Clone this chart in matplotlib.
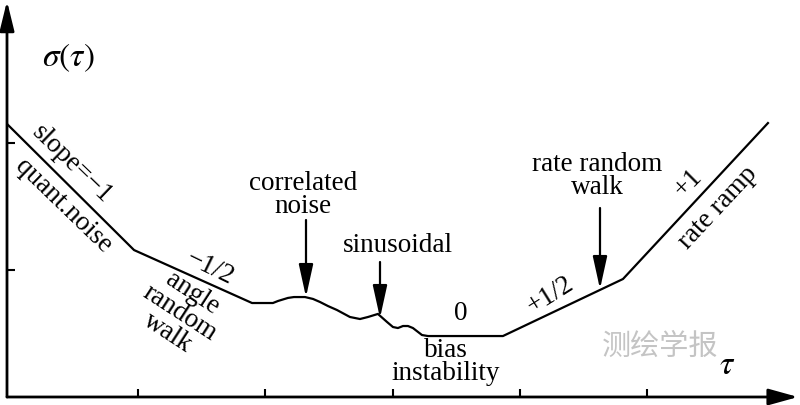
import numpy as np
import matplotlib
matplotlib.use("Agg")
import matplotlib.pyplot as plt

plt.rcParams['font.family'] = ['Liberation Serif', 'DejaVu Serif']
plt.rcParams['mathtext.fontset'] = 'stix'

# Allan deviation sketch, values as log10(tau), log10(sigma)
log_tau = [-1.029, -0.031, 0.896, 1.060, 1.100, 1.178, 1.225, 1.312, 1.375, 1.430,
           1.493, 1.563, 1.665, 1.744, 1.807, 1.885, 1.956, 2.003, 2.042, 2.082,
           2.121, 2.160, 2.200, 2.231, 2.278, 2.867, 3.810, 4.949]
log_sigma = [1.150, 0.157, -0.260, -0.260, -0.244, -0.220, -0.213, -0.213, -0.228, -0.252,
             -0.284, -0.315, -0.370, -0.386, -0.370, -0.346, -0.409, -0.449, -0.457, -0.441,
             -0.441, -0.457, -0.488, -0.512, -0.520, -0.520, -0.071, 1.157]
x_ticks = [1, 10, 100, 1e3, 1e4]
y_ticks = [1, 10]

W, H = 800, 405
fig = plt.figure(figsize=(8, 4.05), dpi=100)
ax = fig.add_axes([7 / W, 8 / H, 791 / W, 396 / H])
ax.set_xscale('log')
ax.set_yscale('log')
ax.set_xlim(10 ** -1.029, 10 ** 5.185)
ax.set_ylim(10 ** -1.0, 10 ** 2.118)

tau = 10 ** np.array(log_tau)
sigma = 10 ** np.array(log_sigma)
ax.plot(tau, sigma, color='k', lw=1.6, solid_joinstyle='round')

for s in ax.spines.values():
    s.set_visible(False)
ax.set_xticks(x_ticks)
ax.set_yticks(y_ticks)
ax.minorticks_off()
ax.tick_params(direction='in', length=6, width=1.5, labelbottom=False, labelleft=False)

# axis arrows
ax.annotate('', xy=(1, 0), xytext=(0, 0), xycoords='axes fraction',
            arrowprops=dict(arrowstyle='-|>,head_length=0.9,head_width=0.25',
                            lw=2, color='k', mutation_scale=20, shrinkA=0, shrinkB=0))
ax.annotate('', xy=(0, 1), xytext=(0, 0), xycoords='axes fraction',
            arrowprops=dict(arrowstyle='-|>,head_length=0.9,head_width=0.22',
                            lw=2, color='k', mutation_scale=20, shrinkA=0, shrinkB=0))


def fp(x, y):
    return (x / W, 1 - y / H)


def label(x, y, s, size=19.5, rot=0, **kw):
    fig.text(*fp(x, y), s, fontsize=size, rotation=rot, ha='center', va='center',
             rotation_mode='anchor', linespacing=0.92, **kw)


def pointer(x, y0, y1):
    fig.add_artist(matplotlib.patches.FancyArrowPatch(
        fp(x, y0), fp(x, y1), transform=fig.transFigure,
        arrowstyle='-|>,head_length=1.0,head_width=0.22', mutation_scale=20,
        lw=1.6, color='k', shrinkA=0, shrinkB=0))


label(68, 58, r'$\sigma(\tau)$', size=24)
label(727, 366, r'$\tau$', size=24)

label(72, 164, 'slope=−1', rot=-44)
label(63, 206, 'quant.noise', rot=-44)
label(210, 268, '−1/2', rot=-26)
label(180, 313, 'angle\nrandom\nwalk', rot=-33)
label(303, 195, 'correlated\nnoise')
pointer(306, 220, 297)
label(398, 245, 'sinusoidal')
pointer(380, 262, 318)
label(461, 314, '0')
label(446, 362, 'bias\ninstability')
label(550, 295, '+1/2', rot=32)
label(597, 176, 'rate random\nwalk')
pointer(600, 208, 289)
label(688, 183, '+1', rot=45)
label(718, 208, 'rate ramp', rot=47)

fig.text(*fp(660, 347), '测绘学报', fontsize=21, color='#c4c4c4', ha='center', va='center',
         family=['Noto Sans CJK SC', 'DejaVu Sans'])

fig.savefig('out.png', dpi=100)
